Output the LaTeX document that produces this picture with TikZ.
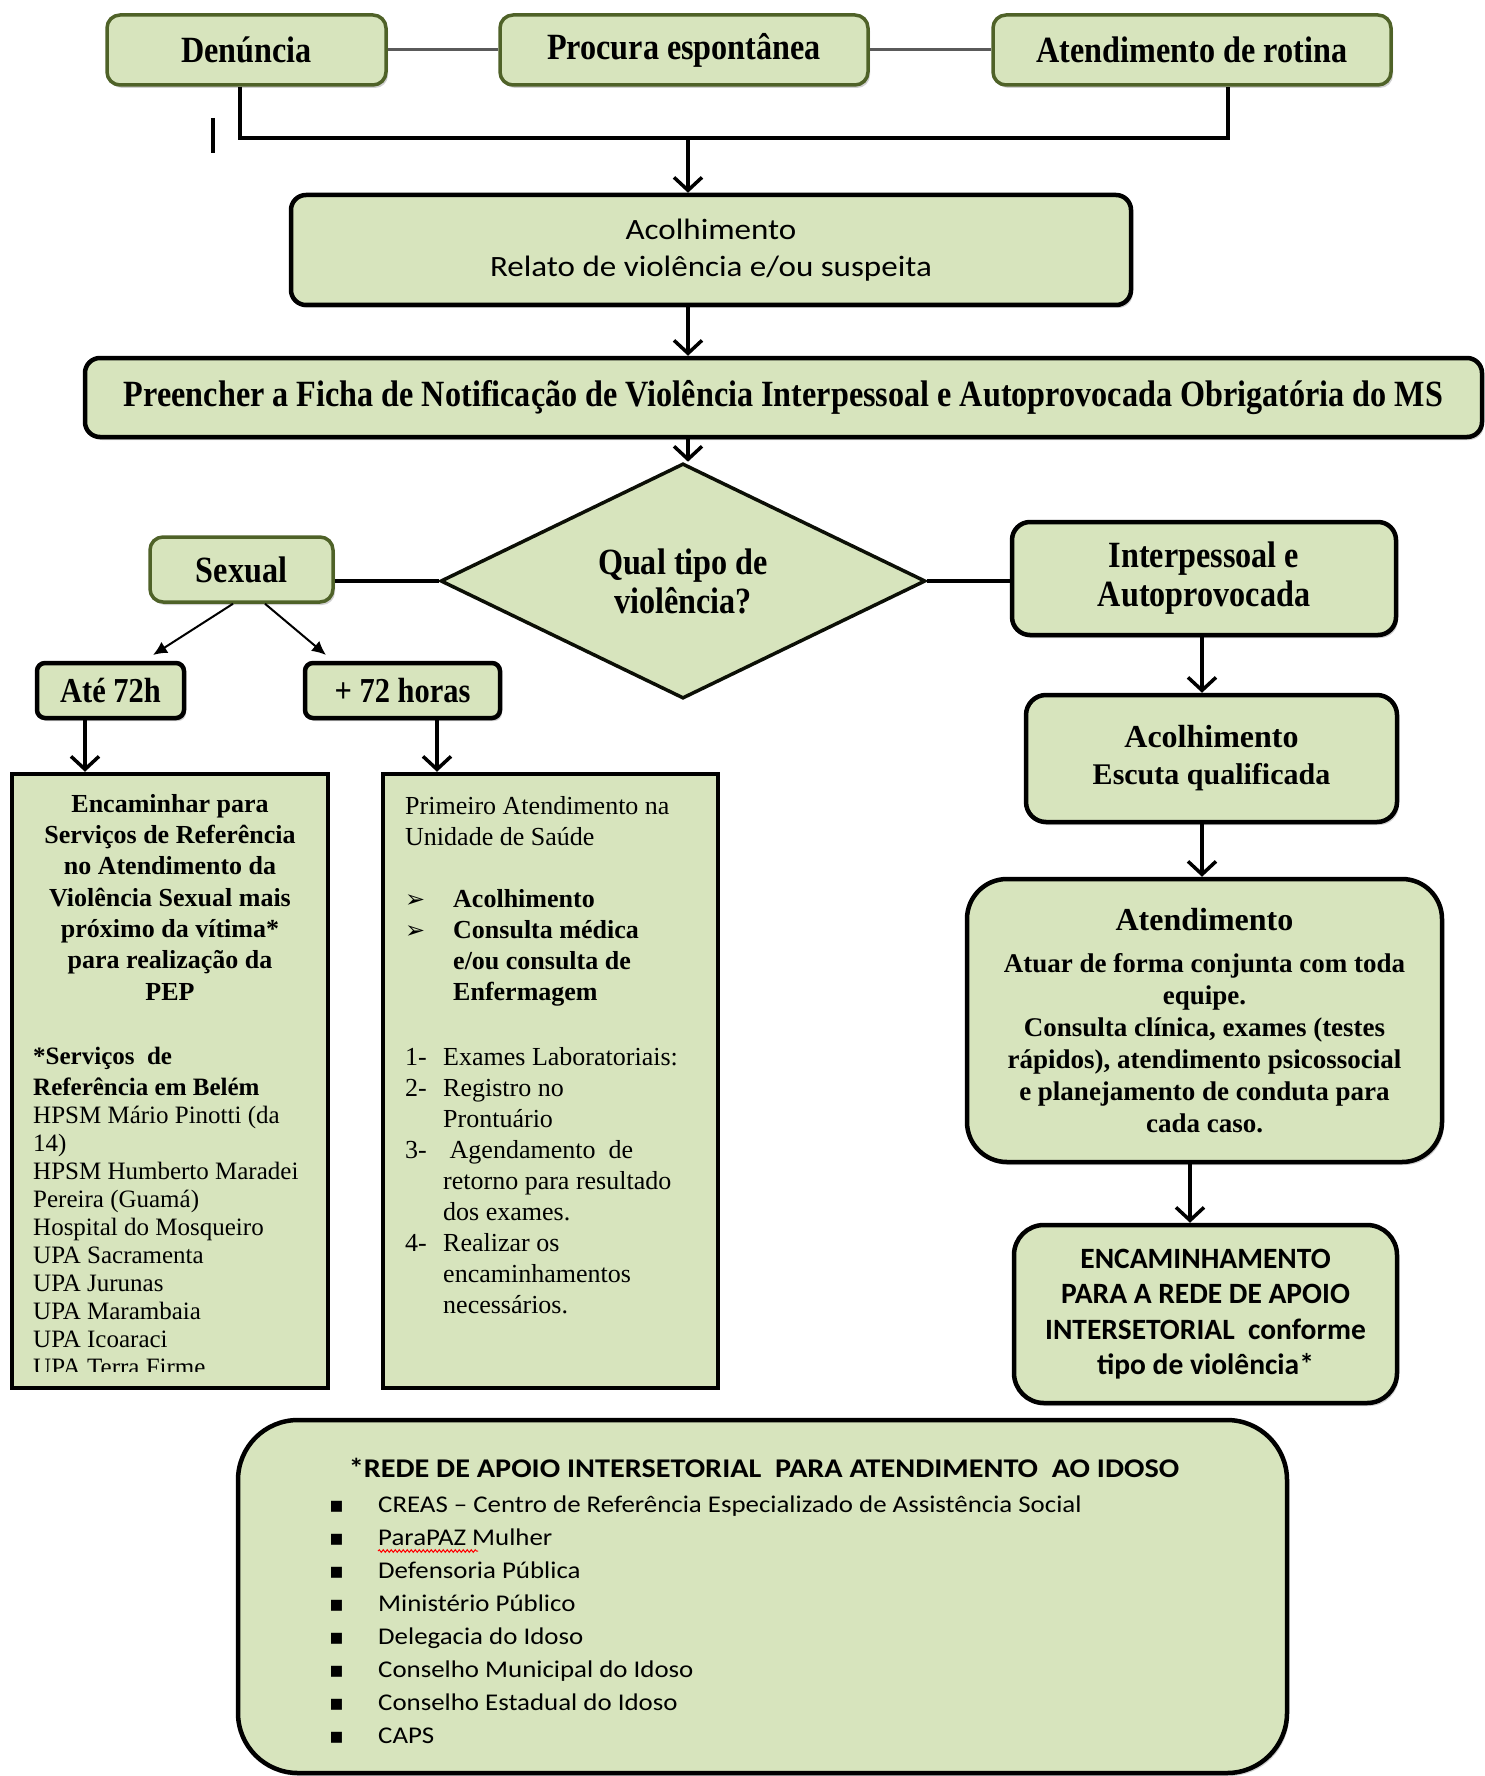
\documentclass[tikz,border=0pt]{standalone}
\usepackage{fontspec}
\setmainfont{Liberation Serif}
\newfontfamily\headfont[FakeStretch=0.87]{Liberation Serif}
\newfontfamily\calfont{Carlito}
\newfontfamily\calwide[FakeStretch=1.12]{Carlito}
\newfontfamily\symfont{DejaVu Sans}
\usetikzlibrary{shapes.geometric,arrows.meta,shadows,decorations.pathmorphing}

\definecolor{boxfill}{RGB}{215,228,189}
\definecolor{oliveline}{RGB}{79,98,40}
\definecolor{linkgray}{RGB}{90,90,90}

\newcommand{\fs}[2]{\fontsize{#1}{#2}\selectfont}
\newcommand{\sqbullet}{\makebox[49pt][l]{\symfont\fs{22}{33}▪}}
\newcommand{\arrowbullet}{\makebox[48pt][l]{\symfont\fs{24}{31}➢}}

\tikzset{
  box/.style={fill=boxfill, inner sep=0pt, align=center},
  softshadow/.style={drop shadow={shadow xshift=2pt, shadow yshift=-3pt, opacity=0.3, fill=black!60}},
  olivebox/.style={box, draw=oliveline, line width=3.5pt, rounded corners=13pt, softshadow},
  blackbox/.style={box, draw=black, line width=4.5pt, softshadow},
  squarebox/.style={box, draw=black, line width=4.5pt},
  headtext/.style={font=\headfont\bfseries\fs{37}{39}},
  flow/.style={line width=3.5pt, -{Straight Barb[length=13pt,width=28pt]}},
  thinflow/.style={line width=2pt, -{Latex[length=14pt,width=13pt]}},
  link/.style={line width=4.5pt},
  txt/.style={inner sep=0pt},
}

\begin{document}
\begin{tikzpicture}[x=1pt,y=-1pt]
\fill[white] (0,0) rectangle (1484,1776);
\useasboundingbox (0,0) rectangle (1484,1776);

% ---- entry points ----
\node[olivebox, headtext, minimum width=279pt, minimum height=70pt] (den) at (246.5,50) {Denúncia};
\node[olivebox, headtext, minimum width=368pt, minimum height=70pt] (pro) at (684,50) {Procura espontânea};
\node[olivebox, headtext, minimum width=398pt, minimum height=70pt] (rot) at (1192,50) {Atendimento de rotina};

\draw[line width=3pt, linkgray] (den) -- (pro);
\draw[line width=3pt, linkgray] (pro) -- (rot);

\coordinate (jl) at (240,138);
\coordinate (jr) at (1228,138);
\coordinate (jm) at (688,138);
\draw[line width=4pt] (jl |- den.south) -- (jl) -- (jr) -- (jr |- rot.south);
\draw[line width=4.5pt] (213,118) -- (213,153);

% ---- reception ----
\node[blackbox, rounded corners=15pt, minimum width=840pt, minimum height=110pt,
      font=\calwide\fs{29.5}{37}] (acol) at (711,250)
  {Acolhimento\\Relato de violência e/ou suspeita};
\draw[flow] (jm) -- (jm |- acol.north);

\node[blackbox, rounded corners=15pt, minimum width=1397pt, minimum height=79pt,
      headtext] (pre) at (783.5,397.5)
  {Preencher a Ficha de Notificação de Violência Interpessoal e Autoprovocada Obrigatória do MS};
\coordinate (cx) at (688,0);
\draw[flow] (cx |- acol.south) -- (cx |- pre.north);

% ---- decision ----
\node[box, diamond, draw=black!85!oliveline, line width=3.5pt, minimum width=485pt,
      minimum height=186pt, headtext] (dia) at (683,581) {Qual tipo de\\violência?};
\draw[flow] (cx |- pre.south) -- (cx |- dia.north);

\node[olivebox, headtext, minimum width=183pt, minimum height=65pt] (sex) at (241.5,569.5) {Sexual};
\node[blackbox, rounded corners=18pt, headtext, minimum width=384pt, minimum height=113pt] (int) at (1204,578.5)
  {Interpessoal e\\Autoprovocada};
\draw[link] (sex.east |- dia.west) -- (dia.west);
\draw[link] (dia.east) -- (int.west |- dia.east);

% ---- sexual branch ----
\node[blackbox, rounded corners=8pt, font=\headfont\bfseries\fs{35}{39},
      minimum width=147pt, minimum height=55pt] (ate) at (110.5,690.5) {Até 72h};
\node[blackbox, rounded corners=8pt, font=\headfont\bfseries\fs{35}{39},
      minimum width=195pt, minimum height=55pt] (mais) at (402.5,690.5) {+ 72 horas};
\coordinate (a1) at (153,655);
\coordinate (a2) at (326,655);
\draw[thinflow] ([xshift=-8.5pt]sex.south) -- (a1);
\draw[thinflow] ([xshift=23.5pt]sex.south) -- (a2);

\node[squarebox, minimum width=316pt, minimum height=614pt] (lbox) at (170,1081) {};
\node[squarebox, minimum width=335pt, minimum height=614pt] (mbox) at (550.5,1081) {};
\coordinate (lx) at (85,0);
\coordinate (mx) at (437,0);
\draw[flow] (lx |- ate.south) -- (lx |- lbox.north);
\draw[flow] (mx |- mais.south) -- (mx |- mbox.north);

\node[txt, anchor=north, align=center, font=\bfseries\fs{26}{31.3}] (lhead) at (170,794)
  {Encaminhar para\\Serviços de Referência\\no Atendimento da\\Violência Sexual mais\\próximo da vítima*\\para realização da\\PEP};

\begin{scope}
  \clip (14.5,776.5) rectangle (325.5,1371);
  \node[txt, anchor=north west, align=left, font=\fs{25}{28}] (llist) at (33,1047)
    {\bfseries *Serviços\ \ de\\[3pt]
     \bfseries Referência em Belém\\
     HPSM Mário Pinotti (da\\
     14)\\
     HPSM Humberto Maradei\\
     Pereira (Guamá)\\
     Hospital do Mosqueiro\\
     UPA Sacramenta\\
     UPA Jurunas\\
     UPA Marambaia\\
     UPA Icoaraci\\
     UPA Terra Firme};
\end{scope}

\node[txt, anchor=north west, align=left, font=\fs{26}{31}] (mlist) at (405,796)
  {Primeiro Atendimento na\\
   Unidade de Saúde\\[31pt]
   \arrowbullet\textbf{Acolhimento}\\
   \arrowbullet\textbf{Consulta médica}\\
   \hspace*{48pt}\textbf{e/ou consulta de}\\
   \hspace*{48pt}\textbf{Enfermagem}\\[34pt]
   \makebox[38pt][l]{1-}Exames Laboratoriais:\\
   \makebox[38pt][l]{2-}Registro no\\
   \hspace*{38pt}Prontuário\\
   \makebox[38pt][l]{3-}\ Agendamento\ \ de\\
   \hspace*{38pt}retorno para resultado\\
   \hspace*{38pt}dos exames.\\
   \makebox[38pt][l]{4-}Realizar os\\
   \hspace*{38pt}encaminhamentos\\
   \hspace*{38pt}necessários.};

% ---- interpersonal branch ----
\node[blackbox, rounded corners=20pt, font=\bfseries\fs{30}{37},
      minimum width=371pt, minimum height=127pt] (esc) at (1211.5,758.5)
  {\fs{32}{37}Acolhimento\\Escuta qualificada};
\coordinate (rx) at (1202,0);
\draw[flow] (rx |- int.south) -- (rx |- esc.north);

\node[blackbox, rounded corners=40pt, font=\bfseries\fs{27}{32},
      minimum width=475pt, minimum height=283pt] (atd) at (1204.5,1020.5)
  {\fs{32}{38}Atendimento\\[10pt]
   Atuar de forma conjunta com toda\\
   equipe.\\
   Consulta clínica, exames (testes\\
   rápidos), atendimento psicossocial\\
   e planejamento de conduta para\\
   cada caso.};
\draw[flow] (rx |- esc.south) -- (rx |- atd.north);

\node[blackbox, rounded corners=30pt, font=\calfont\bfseries\fs{29.5}{35.5},
      minimum width=383pt, minimum height=178pt] (enc) at (1205.5,1314)
  {ENCAMINHAMENTO\\PARA A REDE DE APOIO\\INTERSETORIAL\ \ conforme\\tipo de violência*};
\coordinate (rx2) at (1190,0);
\draw[flow] (rx2 |- atd.south) -- (rx2 |- enc.north);

% ---- support network ----
\node[blackbox, rounded corners=60pt, minimum width=1049pt, minimum height=353pt] (bbox) at (762.5,1596.5) {};
\node[txt, font=\calwide\bfseries\fs{27}{32}] (btitle) at (764,1468)
  {*REDE DE APOIO INTERSETORIAL\ \ PARA ATENDIMENTO\ \ AO IDOSO};
\node[txt, anchor=north west, align=left, font=\calwide\fs{24}{33}] (blist) at (329,1496)
  {\sqbullet CREAS – Centro de Referência Especializado de Assistência Social\\
   \sqbullet ParaPAZ Mulher\\
   \sqbullet Defensoria Pública\\
   \sqbullet Ministério Público\\
   \sqbullet Delegacia do Idoso\\
   \sqbullet Conselho Municipal do Idoso\\
   \sqbullet Conselho Estadual do Idoso\\
   \sqbullet CAPS};
\draw[red, line width=1pt, decorate, decoration={snake, amplitude=1.3pt, segment length=4pt}]
  (378,1551) -- (478,1551);
\end{tikzpicture}
\end{document}
